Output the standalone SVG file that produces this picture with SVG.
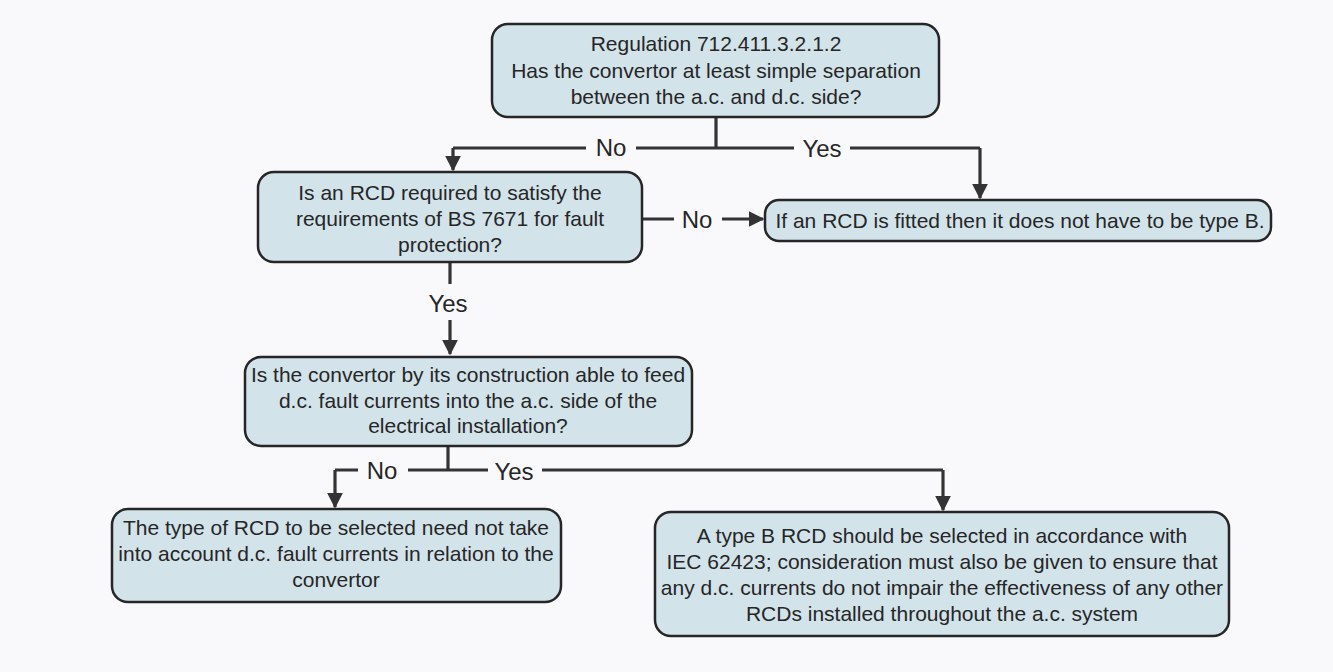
<svg xmlns="http://www.w3.org/2000/svg" width="1333" height="672" viewBox="0 0 1333 672">
<defs>
<marker id="ah" viewBox="0 0 10 10" refX="9" refY="5" markerWidth="5" markerHeight="5" markerUnits="strokeWidth" orient="auto">
<path d="M0,0 L10,5 L0,10 z" fill="#333"/>
</marker>
</defs>
<style>
.box{fill:#d3e3ea;stroke:#262626;stroke-width:2.5}
.t{font-family:"Liberation Sans",Arial,sans-serif;font-size:21px;fill:#262626;text-anchor:middle}
.c{fill:none;stroke:#333;stroke-width:3.2}
.lbl{font-family:"Liberation Sans",Arial,sans-serif;font-size:24px;fill:#262626;text-anchor:middle}
.lbg{fill:#f9f9fb}
</style>
<rect width="1333" height="672" fill="#f9f9fb"/>
<g id="connectors">
<path class="c" d="M716,117 V148 M453,148 H980"/>
<path class="c" d="M453,148 V170" marker-end="url(#ah)"/>
<path class="c" d="M980,148 V198" marker-end="url(#ah)"/>
<path class="c" d="M642,219 H763" marker-end="url(#ah)"/>
<path class="c" d="M450,262 V284"/>
<path class="c" d="M450,320 V354" marker-end="url(#ah)"/>
<path class="c" d="M448,446 V470 M335,470 H943"/>
<path class="c" d="M335,470 V507" marker-end="url(#ah)"/>
<path class="c" d="M943,470 V510" marker-end="url(#ah)"/>
<rect class="lbg" x="586" y="133" width="50" height="30"/>
<text class="lbl" x="611" y="156">No</text>
<rect class="lbg" x="794" y="133" width="56" height="30"/>
<text class="lbl" x="822" y="157">Yes</text>
<rect class="lbg" x="674" y="204" width="48" height="30"/>
<text class="lbl" x="697" y="228">No</text>
<text class="lbl" x="448" y="312">Yes</text>
<rect class="lbg" x="358" y="455" width="50" height="30"/>
<text class="lbl" x="382" y="479">No</text>
<rect class="lbg" x="488" y="455" width="54" height="30"/>
<text class="lbl" x="514" y="480">Yes</text>
</g>
<g id="n1">
<rect class="box" x="492" y="24" width="447" height="93" rx="16"/>
<text class="t" x="716" y="51">Regulation 712.411.3.2.1.2</text>
<text class="t" x="716" y="78">Has the convertor at least simple separation</text>
<text class="t" x="716" y="104">between the a.c. and d.c. side?</text>
</g>
<g id="n2">
<rect class="box" x="258" y="172" width="384" height="90" rx="16"/>
<text class="t" x="450" y="200">Is an RCD required to satisfy the</text>
<text class="t" x="450" y="226">requirements of BS 7671 for fault</text>
<text class="t" x="450" y="252">protection?</text>
</g>
<g id="n3">
<rect class="box" x="765" y="200" width="506" height="41" rx="14"/>
<text class="t" x="1020" y="228">If an RCD is fitted then it does not have to be type B.</text>
</g>
<g id="n4">
<rect class="box" x="245" y="357" width="447" height="89" rx="16"/>
<text class="t" x="468" y="382">Is the convertor by its construction able to feed</text>
<text class="t" x="468" y="408">d.c. fault currents into the a.c. side of the</text>
<text class="t" x="468" y="433">electrical installation?</text>
</g>
<g id="n5">
<rect class="box" x="112" y="509" width="449" height="93" rx="16"/>
<text class="t" x="336" y="535">The type of RCD to be selected need not take</text>
<text class="t" x="336" y="561">into account d.c. fault currents in relation to the</text>
<text class="t" x="336" y="587">convertor</text>
</g>
<g id="n6">
<rect class="box" x="655" y="512" width="574" height="124" rx="16"/>
<text class="t" x="942" y="543">A type B RCD should be selected in accordance with</text>
<text class="t" x="942" y="569">IEC 62423; consideration must also be given to ensure that</text>
<text class="t" x="942" y="595">any d.c. currents do not impair the effectiveness of any other</text>
<text class="t" x="942" y="621">RCDs installed throughout the a.c. system</text>
</g>
</svg>
